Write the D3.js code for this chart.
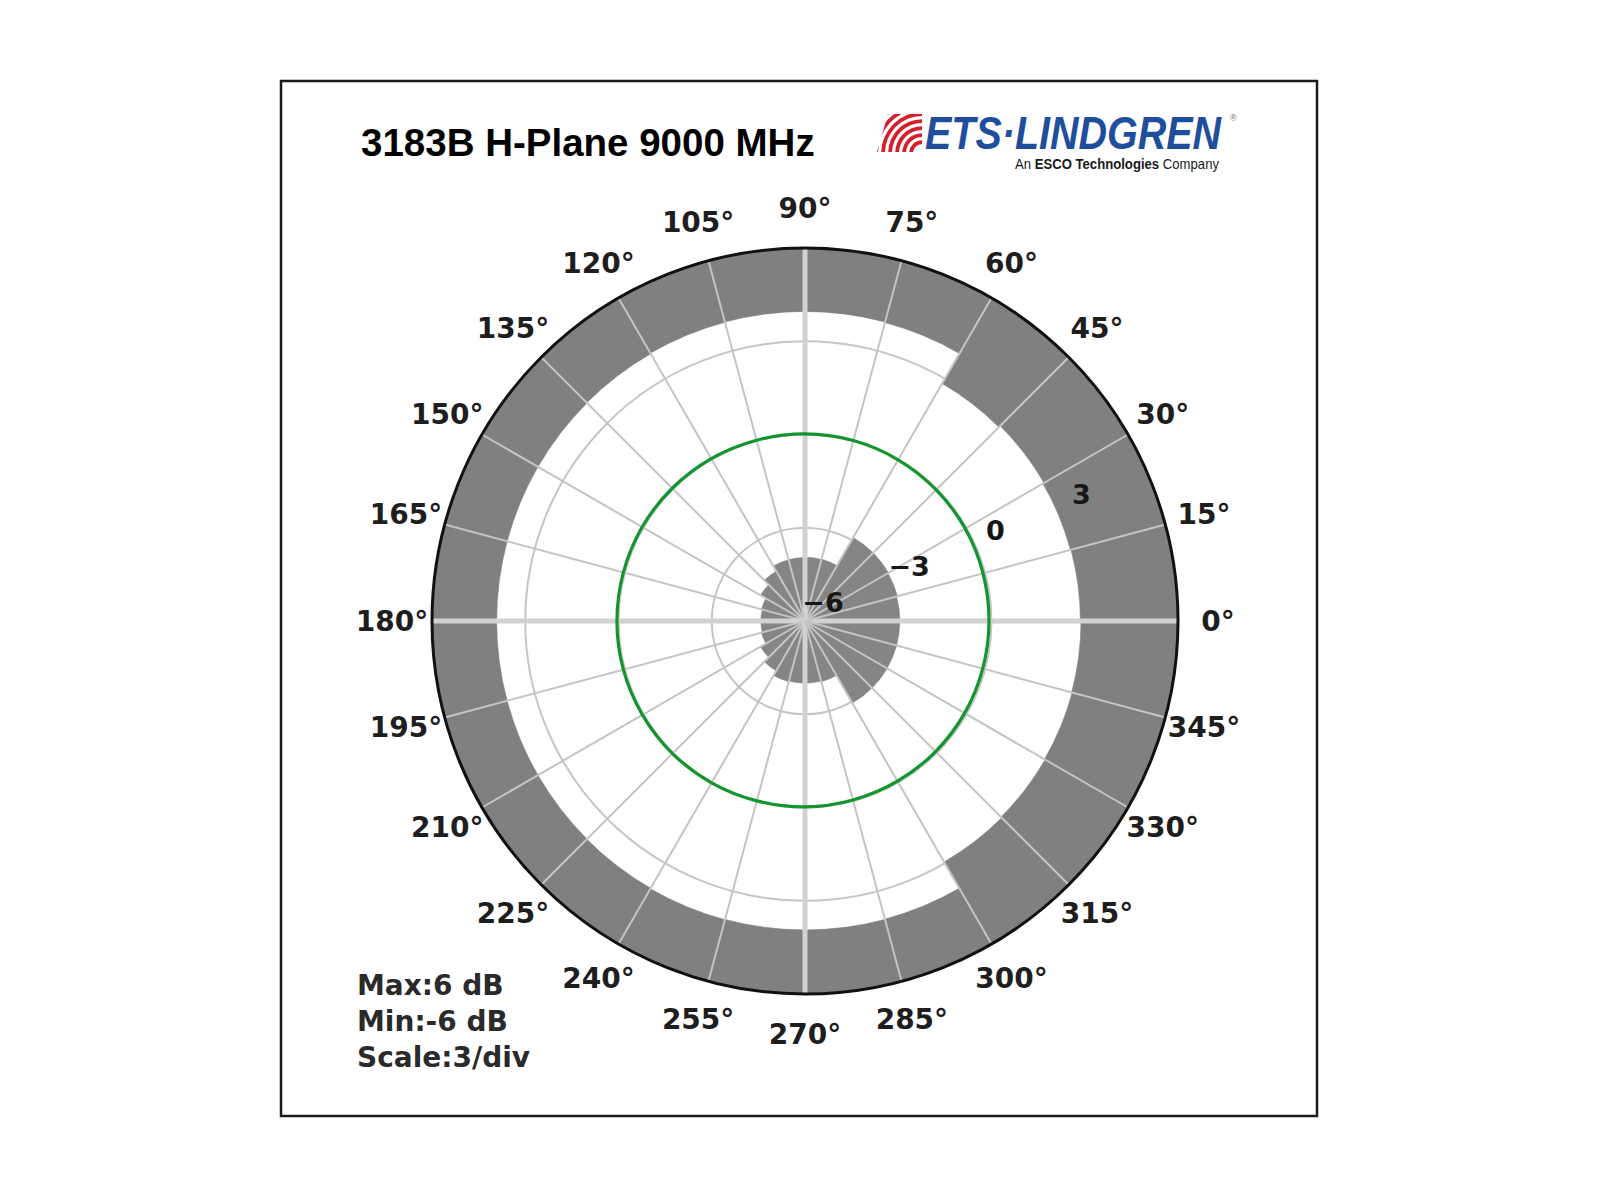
<!DOCTYPE html>
<html><head><meta charset="utf-8">
<script src="https://cdn.jsdelivr.net/npm/d3@7"></script>
<style>body{margin:0;background:#fff}</style>
</head><body>
<svg id="chart" width="1600" height="1200" xmlns="http://www.w3.org/2000/svg"></svg>
<script>
// ---------------- data ----------------
const titleText = "3183B H-Plane 9000 MHz";
const angleTicks = [0,15,30,45,60,75,90,105,120,135,150,165,180,195,210,225,240,255,270,285,300,315,330,345];
const angleLabels = ["0°","15°","30°","45°","60°","75°","90°","105°","120°","135°","150°","165°","180°","195°","210°","225°","240°","255°","270°","285°","300°","315°","330°","345°"];
const radialTicks = [-6, -3, 0, 3];
const radialTickLabels = ["\u22126", "\u22123", "0", "3"];
const radialMin = -6, radialMax = 6;
// measured pattern (dB) at each angle
const patternAngles = [0,15,30,45,60,75,90,105,120,135,150,165,180,195,210,225,240,255,270,285,300,315,330,345];
const patternDb = [-0.08,-0.07,-0.05,-0.03,-0.01,0.01,0.02,0.02,0.03,0.04,0.05,0.05,0.05,0.05,0.04,0.03,0.01,-0.01,-0.02,-0.04,-0.05,-0.06,-0.07,-0.08];
// shaded sectors (start angle of each 15° sector)
const sectorStart = [0,15,30,45,60,75,90,105,120,135,150,165,180,195,210,225,240,255,270,285,300,315,330,345];
const outerShadeFromDb = [2.86,2.84,2.88,2.82,3.94,3.96,3.96,3.95,3.93,3.92,3.92,3.92,3.92,3.92,3.92,3.93,3.95,3.94,3.94,3.93,2.95,2.92,2.90,2.88];
const innerShadeToDb = [-2.95,-2.92,-2.90,-2.90,-3.94,-3.95,-3.96,-3.96,-4.15,-4.35,-4.55,-4.58,-4.58,-4.55,-4.35,-4.15,-3.98,-4.0,-4.0,-3.98,-2.95,-2.95,-2.95,-2.95];
const infoLines = ["Max:6 dB", "Min:-6 dB", "Scale:3/div"];

// ---------------- layout ----------------
const svg = d3.select("#chart");
const cx = 805, cy = 621, R = 373;
const rScale = d3.scaleLinear().domain([radialMin, radialMax]).range([0, R]);
const toRad = d => d * Math.PI / 180;
const px = (deg, r) => cx + r * Math.cos(toRad(deg));
const py = (deg, r) => cy - r * Math.sin(toRad(deg));

svg.append("rect").attr("width",1600).attr("height",1200).attr("fill","#fff");
svg.append("rect").attr("x",281).attr("y",81).attr("width",1036).attr("height",1035)
  .attr("fill","none").attr("stroke","#1a1a1a").attr("stroke-width",2.5);

// title
svg.append("text").attr("x",361).attr("y",156)
  .attr("font-family","Liberation Sans, Arial, sans-serif").attr("font-weight","bold")
  .attr("font-size",38.5).attr("fill","#000").text(titleText);

// logo
const logo = svg.append("g");
const defs = svg.append("defs");
defs.append("clipPath").attr("id","wavesClip").append("polygon")
  .attr("points","877,152 888,114 933,114 921,152");
const waves = logo.append("g").attr("clip-path","url(#wavesClip)");
[9,16,23,30,37,44,51,58].forEach(rr => {
  waves.append("path")
    .attr("d", d3.arc()({innerRadius: rr, outerRadius: rr + 3.8, startAngle: -Math.PI/2, endAngle: 0}))
    .attr("transform","translate(922,153)").attr("fill","#d3202a");
});
logo.append("text").attr("x",925).attr("y",149)
  .attr("font-family","Liberation Sans, Arial, sans-serif").attr("font-weight","bold").attr("font-style","italic")
  .attr("font-size",47).attr("fill","#1f4e9d").attr("textLength",296).attr("lengthAdjust","spacingAndGlyphs")
  .text("ETS\u00B7LINDGREN");
logo.append("text").attr("x",1230).attr("y",121).attr("font-family","Liberation Sans, Arial, sans-serif")
  .attr("font-size",9).attr("fill","#777").text("\u00AE");
const sub = logo.append("text").attr("x",1015).attr("y",169)
  .attr("font-family","Liberation Sans, Arial, sans-serif").attr("font-size",14.5).attr("fill","#1a1a1a")
  .attr("textLength",204).attr("lengthAdjust","spacingAndGlyphs");
sub.append("tspan").text("An ");
sub.append("tspan").attr("font-weight","bold").text("ESCO Technologies");
sub.append("tspan").text(" Company");

// polar plot
const g = svg.append("g");

// grid rings (under shading)
g.selectAll("circle.ring").data(radialTicks.filter(v => v > radialMin)).enter().append("circle")
  .attr("class","ring").attr("cx",cx).attr("cy",cy).attr("r",d => rScale(d))
  .attr("fill","none").attr("stroke","#c6c6c6").attr("stroke-width",2);

// shaded sectors
const arc = d3.arc();
const sectors = sectorStart.map((s,i) => ({s, outerFrom: outerShadeFromDb[i], innerTo: innerShadeToDb[i]}));
g.selectAll("path.outerShade").data(sectors).enter().append("path")
  .attr("class","outerShade")
  .attr("transform",`translate(${cx},${cy})`)
  .attr("d", d => arc({innerRadius: rScale(d.outerFrom), outerRadius: rScale(radialMax),
    startAngle: toRad(90 - d.s - 15), endAngle: toRad(90 - d.s)}))
  .attr("fill","#808080").attr("stroke","#808080").attr("stroke-width",0.6);
g.selectAll("path.innerShade").data(sectors).enter().append("path")
  .attr("class","innerShade")
  .attr("transform",`translate(${cx},${cy})`)
  .attr("d", d => arc({innerRadius: 0, outerRadius: rScale(d.innerTo),
    startAngle: toRad(90 - d.s - 15), endAngle: toRad(90 - d.s)}))
  .attr("fill","#858585").attr("stroke","#858585").attr("stroke-width",0.6);

// spokes
g.selectAll("line.spoke").data(angleTicks).enter().append("line")
  .attr("class","spoke")
  .attr("x1",cx).attr("y1",cy)
  .attr("x2",d => px(d,R)).attr("y2",d => py(d,R))
  .attr("stroke",d => d % 90 === 0 ? "#d2d2d2" : "#c4c4c4")
  .attr("stroke-width",d => d % 90 === 0 ? 5 : 2);

// pattern line
const line = d3.lineRadial()
  .angle(d => toRad(90 - d.a))
  .radius(d => rScale(d.v))
  .curve(d3.curveCardinalClosed);
g.append("path")
  .datum(patternAngles.map((a,i) => ({a, v: patternDb[i]})))
  .attr("transform",`translate(${cx},${cy})`)
  .attr("d", line).attr("fill","none").attr("stroke","#12952f").attr("stroke-width",3.2);

// outer boundary
g.append("circle").attr("cx",cx).attr("cy",cy).attr("r",R)
  .attr("fill","none").attr("stroke","#111").attr("stroke-width",3);

// angle labels
g.selectAll("text.alab").data(angleTicks).enter().append("text")
  .attr("class","alab")
  .attr("x",d => px(d, R + 40)).attr("y",d => py(d, R + 40))
  .attr("text-anchor","middle").attr("dominant-baseline","central")
  .attr("font-family","DejaVu Sans, sans-serif").attr("font-weight","bold")
  .attr("font-size",28).attr("fill","#1e1e1e")
  .text((d,i) => angleLabels[i]);

// radial labels
g.selectAll("text.rlab").data(radialTicks).enter().append("text")
  .attr("class","rlab")
  .attr("x",d => px(22.5, rScale(d)) + 18).attr("y",d => py(22.5, rScale(d)) - 19)
  .attr("text-anchor","middle").attr("dominant-baseline","central")
  .attr("font-family","DejaVu Sans, sans-serif").attr("font-weight","bold")
  .attr("font-size",27).attr("fill","#161616")
  .text((d,i) => radialTickLabels[i]);

// info text
svg.selectAll("text.info").data(infoLines).enter().append("text")
  .attr("class","info")
  .attr("x",357).attr("y",(d,i) => 995 + i*36)
  .attr("font-family","DejaVu Sans, sans-serif").attr("font-weight","bold")
  .attr("font-size",28).attr("fill","#2a2a2a")
  .text(d => d);
</script>
</body></html>
